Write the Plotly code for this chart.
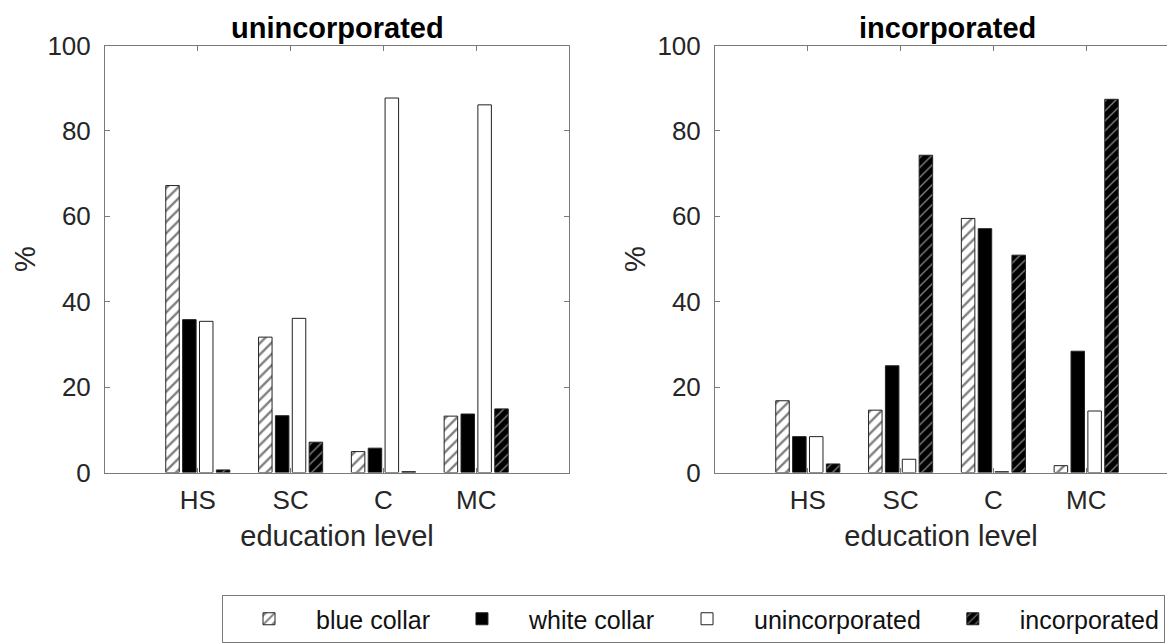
import plotly.graph_objects as go

# Education levels (x categories)
levels = ["HS", "SC", "C", "MC"]
level_pos = [1, 2, 3, 4]

series_names = ["blue collar", "white collar", "unincorporated", "incorporated"]

# Percentages, unincorporated panel
uninc_blue = [67.2, 31.7, 4.9, 13.2]
uninc_white = [35.8, 13.3, 5.7, 13.7]
uninc_uninc = [35.4, 36.1, 87.7, 86.1]
uninc_inc = [0.6, 7.1, 0.2, 14.9]

# Percentages, incorporated panel
inc_blue = [16.8, 14.6, 59.5, 1.6]
inc_white = [8.4, 25.0, 57.1, 28.4]
inc_uninc = [8.4, 3.1, 0.2, 14.4]
inc_inc = [2.0, 74.3, 50.9, 87.4]

y_ticks = [0, 20, 40, 60, 80, 100]

FONT = "Liberation Sans, Arial, Helvetica, sans-serif"
EDGE = dict(color="#222222", width=1)

styles = [
    dict(color="white", line=EDGE,
         pattern=dict(shape="/", bgcolor="white", fgcolor="black", size=8, solidity=0.3)),
    dict(color="black", line=EDGE),
    dict(color="white", line=EDGE),
    dict(color="black", line=EDGE,
         pattern=dict(shape="/", bgcolor="black", fgcolor="white", size=7, solidity=0.2)),
]

panels = [
    ("x", "y", [uninc_blue, uninc_white, uninc_uninc, uninc_inc], True),
    ("x2", "y2", [inc_blue, inc_white, inc_uninc, inc_inc], False),
]

fig = go.Figure()
for xa, ya, values, show in panels:
    for name, vals, st in zip(series_names, values, styles):
        fig.add_trace(go.Bar(
            x=level_pos, y=vals, name=name, xaxis=xa, yaxis=ya,
            marker=st, legendgroup=name, showlegend=show,
        ))

H, W = 643, 1167
y_dom = [1 - 472.5 / H, 1 - 45.5 / H]
left_dom = [105 / W, 569 / W]
right_dom = [715 / W, 1.0]
cat_px = (569 - 105) / 5.0
right_max = (W - 715) / cat_px

axis_col = "#7a7a7a"
tick_font = dict(family=FONT, size=26, color="#262626")
lab_font = dict(family=FONT, size=29, color="#262626")

common_x = dict(
    tickmode="array", tickvals=level_pos, ticktext=levels,
    ticks="inside", ticklen=5, tickcolor=axis_col, ticklabelstandoff=4,
    showline=True, linecolor=axis_col, linewidth=1, mirror="ticks",
    showgrid=False, zeroline=False, tickfont=tick_font,
    title=dict(text="education level", font=lab_font, standoff=11),
    automargin=False, fixedrange=True,
)
common_y = dict(
    range=[0, 100], tickmode="array", tickvals=y_ticks,
    ticks="inside", ticklen=5, tickcolor=axis_col, ticklabelstandoff=8,
    showline=True, linecolor=axis_col, linewidth=1,
    showgrid=False, zeroline=False, tickfont=tick_font,
    title=dict(text="%", font=lab_font, standoff=3),
    automargin=False, fixedrange=True,
)

title_font = dict(family=FONT, size=29, color="black")

fig.update_layout(
    width=W, height=H,
    margin=dict(l=0, r=0, t=0, b=0),
    paper_bgcolor="white", plot_bgcolor="white",
    barmode="group", bargap=0.273, bargroupgap=0.2,
    font=dict(family=FONT, color="#262626"),
    xaxis=dict(domain=left_dom, range=[0, 5], anchor="y", **common_x),
    yaxis=dict(domain=y_dom, anchor="x", mirror="ticks", **common_y),
    xaxis2=dict(domain=right_dom, range=[0, right_max], anchor="y2", **common_x),
    yaxis2=dict(domain=y_dom, anchor="x2", mirror=False, **common_y),
    legend=dict(
        orientation="h", x=222 / W, y=0.0, xanchor="left", yanchor="bottom",
        bordercolor=axis_col, borderwidth=1, bgcolor="white",
        font=dict(family=FONT, size=25, color="#111111"),
        itemwidth=84, tracegroupgap=0,
    ),
    annotations=[
        dict(text="<b>unincorporated</b>", x=(left_dom[0] + left_dom[1]) / 2, y=y_dom[1],
             xref="paper", yref="paper", xanchor="center", yanchor="bottom",
             showarrow=False, yshift=0, font=title_font),
        dict(text="<b>incorporated</b>", x=(715 + 2.5 * cat_px) / W, y=y_dom[1],
             xref="paper", yref="paper", xanchor="center", yanchor="bottom",
             showarrow=False, yshift=0, font=title_font),
    ],
)

fig.write_html("out.html")
